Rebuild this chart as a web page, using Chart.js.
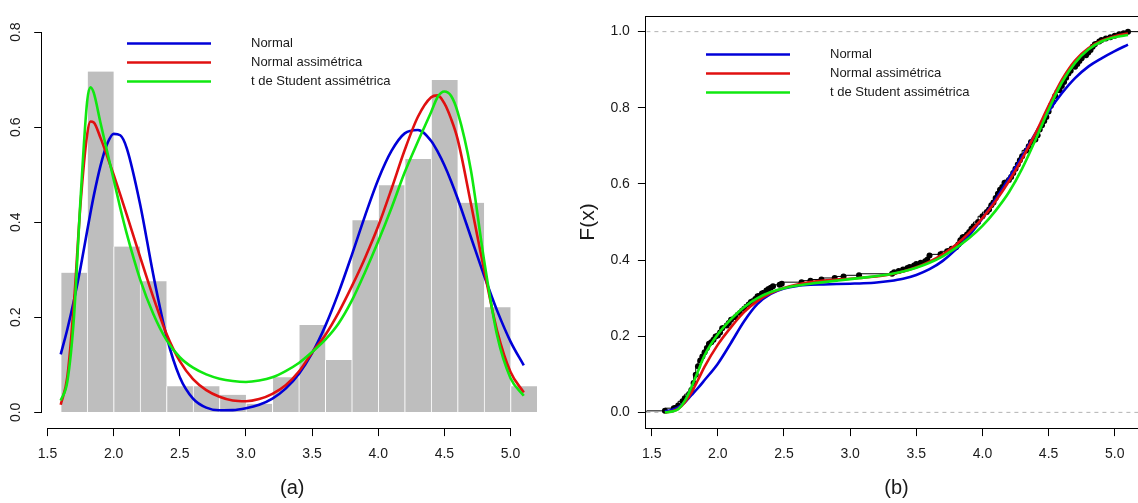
<!DOCTYPE html>
<html lang="pt">
<head>
<meta charset="utf-8">
<title>Erupções: densidades e distribuições ajustadas</title>
<script src="https://cdn.jsdelivr.net/npm/chart.js@4.4.1/dist/chart.umd.min.js"></script>
<style>
  html, body { margin: 0; padding: 0; background: #fff; overflow: hidden; }
  body { width: 1138px; height: 503px; position: relative; }
  canvas { position: absolute; top: 0; }
  #histo { left: 0; }
  #acum { left: 580px; }
</style>
</head>
<body>
<canvas id="histo" width="580" height="503"></canvas>
<canvas id="acum" width="600" height="503"></canvas>
<script>
// ---- dados ----
const nomesModelos = ["Normal", "Normal assimétrica", "t de Student assimétrica"];

// histograma (densidade por classe)
const binEdges = [1.6,1.8,2.0,2.2,2.4,2.6,2.8,3.0,3.2,3.4,3.6,3.8,4.0,4.2,4.4,4.6,4.8,5.0,5.2];
const binDensity = [0.294,0.717,0.349,0.276,0.055,0.055,0.037,0.018,0.074,
                    0.184,0.110,0.404,0.478,0.533,0.699,0.441,0.221,0.055];

// densidades ajustadas
const densX = [1.6,1.65,1.7,1.75,1.8,1.825,1.85,1.9,1.95,2.0,2.05,2.1,
               2.2,2.3,2.4,2.5,2.6,2.7,2.8,2.9,3.0,3.1,3.2,3.3,3.4,3.5,3.6,3.7,3.8,3.9,
               4.0,4.1,4.2,4.3,4.4,4.45,4.5,4.55,4.6,4.7,4.8,4.9,5.0,5.1];
const densNormal = [0.122,0.175,0.236,0.305,0.382,0.420,0.456,0.518,0.564,0.586,0.583,0.555,
                    0.438,0.289,0.160,0.074,0.029,0.010,0.0045,0.0048,0.0087,0.016,0.029,0.050,0.081,0.1245,0.182,0.252,0.331,0.4135,
                    0.490,0.550,0.587,0.594,0.571,0.548,0.520,0.487,0.450,0.369,0.288,0.213,0.149,0.099];
const densSN = [0.016,0.075,0.230,0.440,0.585,0.612,0.610,0.578,0.540,0.500,0.458,0.415,
                0.327,0.242,0.165,0.108,0.070,0.047,0.033,0.025,0.0235,0.028,0.039,0.057,0.086,0.126,0.163,0.210,0.265,0.325,
                0.392,0.470,0.552,0.622,0.663,0.667,0.650,0.618,0.575,0.440,0.300,0.170,0.085,0.042];
const densST = [0.025,0.065,0.200,0.450,0.655,0.684,0.672,0.610,0.550,0.490,0.430,0.375,
                0.280,0.207,0.152,0.116,0.094,0.080,0.071,0.066,0.064,0.067,0.074,0.087,0.104,0.127,0.153,0.187,0.235,0.295,
                0.360,0.430,0.505,0.570,0.632,0.664,0.675,0.666,0.632,0.510,0.320,0.160,0.072,0.035];

// distribuições acumuladas ajustadas
const cdfX = [1.6,1.65,1.7,1.75,1.8,1.85,1.9,2.0,2.1,2.2,2.3,2.4,2.5,2.6,2.7,2.8,2.9,3.0,
              3.1,3.2,3.3,3.4,3.5,3.6,3.7,3.8,3.9,4.0,4.1,4.2,4.3,4.4,4.5,4.6,4.7,4.8,4.9,5.0,5.1];
const cdfNormal = [0.002,0.006,0.013,0.026,0.045,0.064,0.085,0.128,0.183,0.240,0.285,0.311,0.325,0.332,0.335,0.336,0.337,0.338,
                   0.339,0.341,0.345,0.351,0.361,0.376,0.398,0.428,0.465,0.510,0.560,0.615,0.672,0.733,0.790,0.838,0.878,0.908,0.930,0.949,0.966];
const cdfSN = [0.000,0.002,0.009,0.026,0.052,0.085,0.120,0.178,0.224,0.264,0.293,0.313,0.327,0.336,0.342,0.346,0.349,0.351,
               0.354,0.357,0.362,0.370,0.381,0.396,0.415,0.440,0.472,0.510,0.555,0.607,0.666,0.732,0.805,0.873,0.924,0.956,0.976,0.988,0.995];
const cdfST = [0.000,0.002,0.008,0.030,0.066,0.108,0.150,0.205,0.245,0.277,0.300,0.316,0.326,0.333,0.338,0.342,0.346,0.350,
               0.354,0.358,0.363,0.370,0.380,0.393,0.410,0.432,0.458,0.490,0.530,0.578,0.640,0.715,0.795,0.866,0.918,0.953,0.974,0.985,0.991];

// distribuição empírica
const ecdfX = [1.600,1.667,1.700,1.733,1.750,1.783,1.800,1.817,1.833,1.850,
               1.867,1.883,1.900,1.917,1.933,1.950,1.967,1.983,2.000,2.017,
               2.033,2.067,2.083,2.100,2.133,2.167,2.200,2.233,2.250,2.283,
               2.300,2.333,2.367,2.383,2.400,2.417,2.467,2.483,2.633,2.700,
               2.783,2.883,2.950,3.067,3.317,3.333,3.367,3.400,3.433,3.450,
               3.483,3.500,3.533,3.567,3.583,3.600,3.683,3.733,3.767,3.800,
               3.817,3.833,3.850,3.883,3.900,3.917,3.933,3.967,4.000,4.033,
               4.050,4.067,4.083,4.100,4.117,4.133,4.150,4.167,4.200,4.217,
               4.233,4.250,4.267,4.283,4.300,4.333,4.350,4.367,4.400,4.417,
               4.433,4.450,4.467,4.483,4.500,4.517,4.533,4.550,4.583,4.600,
               4.617,4.633,4.650,4.667,4.700,4.717,4.733,4.750,4.783,4.800,
               4.817,4.833,4.850,4.883,4.900,4.933,4.967,5.000,5.033,5.067,
               5.100];
const ecdfF = [0.004,0.011,0.018,0.029,0.037,0.048,0.059,0.077,0.099,0.121,
               0.136,0.147,0.158,0.169,0.180,0.184,0.191,0.199,0.202,0.210,
               0.221,0.228,0.235,0.243,0.250,0.261,0.272,0.283,0.290,0.298,
               0.305,0.312,0.320,0.324,0.327,0.331,0.335,0.338,0.342,0.346,
               0.349,0.353,0.357,0.360,0.364,0.368,0.371,0.375,0.379,0.382,
               0.386,0.390,0.393,0.397,0.401,0.412,0.415,0.423,0.430,0.434,
               0.441,0.452,0.460,0.467,0.474,0.482,0.489,0.500,0.515,0.526,
               0.533,0.544,0.551,0.563,0.574,0.585,0.592,0.603,0.610,0.618,
               0.629,0.640,0.651,0.662,0.673,0.688,0.699,0.710,0.717,0.728,
               0.743,0.754,0.765,0.776,0.790,0.805,0.816,0.831,0.846,0.857,
               0.868,0.879,0.890,0.897,0.908,0.915,0.923,0.930,0.938,0.945,
               0.952,0.960,0.967,0.974,0.978,0.982,0.985,0.989,0.993,0.996,
               1.000];

const xRange = [1.46, 5.24];
const xTicks = [1.5, 2.0, 2.5, 3.0, 3.5, 4.0, 4.5, 5.0];
const yTicksDens = [0, 0.2, 0.4, 0.6, 0.8];
const yTicksCdf = [0, 0.2, 0.4, 0.6, 0.8, 1.0];

// ---- estilo ----
const FONTE = '"Liberation Sans", Arial, sans-serif';
const COR_TEXTO = "#1a1a1a";
const cores = ["#0000d8", "#e01010", "#10e810"];

const pares = (xs, ys) => xs.map((x, i) => ({ x, y: ys[i] }));

function curva(label, xs, ys, i) {
  return {
    type: "line", label, data: pares(xs, ys),
    borderColor: cores[i], borderWidth: 2.6, pointRadius: 0,
    cubicInterpolationMode: "monotone", order: 3 - i
  };
}

// legenda no estilo do R: traço comprido + texto afastado
const legendaR = {
  id: "legendaR",
  afterDraw(chart, args, opts) {
    const { ctx } = chart;
    const sets = chart.data.datasets.filter(d => nomesModelos.includes(d.label));
    ctx.save();
    ctx.font = "13px " + FONTE;
    ctx.textBaseline = "middle";
    ctx.textAlign = "left";
    sets.forEach((d, i) => {
      const y = opts.y + i * opts.gap;
      ctx.strokeStyle = d.borderColor;
      ctx.lineWidth = 2.6;
      ctx.beginPath();
      ctx.moveTo(opts.x0, y);
      ctx.lineTo(opts.x1, y);
      ctx.stroke();
      ctx.fillStyle = COR_TEXTO;
      ctx.fillText(d.label, opts.xText, y);
    });
    ctx.restore();
  }
};

// eixos soltos (só entre o primeiro e o último tick)
const eixosSoltos = {
  id: "eixosSoltos",
  afterDraw(chart) {
    const { ctx, chartArea, scales: { x, y } } = chart;
    ctx.save();
    ctx.strokeStyle = "#000";
    ctx.lineWidth = 1;
    ctx.beginPath();
    const yb = Math.round(chartArea.bottom) + 0.5;
    ctx.moveTo(x.getPixelForValue(xTicks[0]), yb);
    ctx.lineTo(x.getPixelForValue(xTicks[xTicks.length - 1]), yb);
    const xl = Math.round(chartArea.left) - 0.5;
    ctx.moveTo(xl, y.getPixelForValue(yTicksDens[0]));
    ctx.lineTo(xl, y.getPixelForValue(yTicksDens[yTicksDens.length - 1]));
    ctx.stroke();
    ctx.restore();
  }
};

// moldura em volta da área do gráfico
const moldura = {
  id: "moldura",
  afterDraw(chart) {
    const { ctx, chartArea: a } = chart;
    ctx.save();
    ctx.strokeStyle = "#000";
    ctx.lineWidth = 1;
    ctx.strokeRect(Math.round(a.left) - 0.5, Math.round(a.top) + 0.5,
                   a.right - a.left + 1, Math.round(a.bottom) - Math.round(a.top));
    ctx.restore();
  }
};

function eixoX(titulo) {
  return {
    type: "linear", min: xRange[0], max: xRange[1], offset: false,
    afterBuildTicks: s => { s.ticks = xTicks.map(v => ({ value: v })); },
    afterFit: s => { s.height = 75.4; },
    ticks: { callback: v => v.toFixed(1), font: { family: FONTE, size: 14 }, color: COR_TEXTO,
             padding: 9.5, maxRotation: 0, autoSkip: false },
    grid: { display: true, drawOnChartArea: false, drawTicks: true, tickLength: 8.5,
            color: "#000", tickColor: "#000", offset: false },
    border: { display: false },
    title: { display: true, text: titulo, color: COR_TEXTO,
             font: { family: FONTE, size: 20 }, padding: { top: 0, bottom: 3 } }
  };
}

Chart.defaults.font.family = FONTE;

// ---- (a) histograma com densidades ----
const barras = binDensity.map((d, i) => ({ x: (binEdges[i] + binEdges[i + 1]) / 2, y: d }));

new Chart(document.getElementById("histo"), {
  type: "bar",
  data: {
    datasets: [
      curva(nomesModelos[0], densX, densNormal, 0),
      curva(nomesModelos[1], densX, densSN, 1),
      curva(nomesModelos[2], densX, densST, 2),
      {
        type: "bar", label: "hist", data: barras,
        backgroundColor: "#bebebe", borderColor: "#ffffff",
        borderWidth: { left: 1, right: 0, top: 0, bottom: 0 },
        barPercentage: 1, categoryPercentage: 1, order: 4
      }
    ]
  },
  options: {
    responsive: false, animation: false, devicePixelRatio: 1,
    layout: { padding: { left: 0, top: 7.4, right: 37.7, bottom: 0 } },
    plugins: {
      legend: { display: false }, tooltip: { enabled: false },
      legendaR: { x0: 127, x1: 211, xText: 251, y: 43.5, gap: 19 }
    },
    scales: {
      x: eixoX("(a)"),
      y: {
        min: -0.032, max: 0.832,
        afterBuildTicks: s => { s.ticks = yTicksDens.map(v => ({ value: v })); },
        afterFit: s => { s.width = 42.2; },
        ticks: { callback: v => v.toFixed(1), font: { family: FONTE, size: 14 }, color: COR_TEXTO,
                 minRotation: 90, maxRotation: 90, crossAlign: "center", padding: 8.5, autoSkip: false },
        grid: { display: true, drawOnChartArea: false, drawTicks: true, tickLength: 8,
                color: "#000", tickColor: "#000" },
        border: { display: false }
      }
    }
  },
  plugins: [eixosSoltos, legendaR]
});

// ---- (b) distribuição acumulada ----
new Chart(document.getElementById("acum"), {
  type: "line",
  data: {
    datasets: [
      curva(nomesModelos[0], cdfX, cdfNormal, 0),
      curva(nomesModelos[1], cdfX, cdfSN, 1),
      curva(nomesModelos[2], cdfX, cdfST, 2),
      {
        label: "ecdf pontos", data: pares(ecdfX, ecdfF), showLine: false,
        pointRadius: 3, pointBackgroundColor: "#000", pointBorderWidth: 0, order: 5
      },
      {
        label: "ecdf degraus",
        data: [{ x: xRange[0], y: 0 }, ...pares(ecdfX, ecdfF), { x: xRange[1], y: 1 }],
        stepped: "after", borderColor: "#000", borderWidth: 1, pointRadius: 0, order: 6
      },
      {
        label: "ref0", data: [{ x: xRange[0], y: 0 }, { x: xRange[1], y: 0 }],
        borderColor: "#b3b3b3", borderDash: [4, 4], borderWidth: 1, pointRadius: 0, order: 9
      },
      {
        label: "ref1", data: [{ x: xRange[0], y: 1 }, { x: xRange[1], y: 1 }],
        borderColor: "#b3b3b3", borderDash: [4, 4], borderWidth: 1, pointRadius: 0, order: 9
      }
    ]
  },
  options: {
    responsive: false, animation: false, devicePixelRatio: 1,
    layout: { padding: { left: 0, top: 7.4, right: 33.5, bottom: 0 } },
    plugins: {
      legend: { display: false }, tooltip: { enabled: false },
      legendaR: { x0: 126, x1: 210, xText: 250, y: 54.5, gap: 19 }
    },
    scales: {
      x: eixoX("(b)"),
      y: {
        min: -0.04, max: 1.04,
        afterBuildTicks: s => { s.ticks = yTicksCdf.map(v => ({ value: v })); },
        afterFit: s => { s.width = 66.4; },
        ticks: { callback: v => v.toFixed(1), font: { family: FONTE, size: 14 }, color: COR_TEXTO,
                 padding: 8, autoSkip: false },
        grid: { display: true, drawOnChartArea: false, drawTicks: true, tickLength: 8.5,
                color: "#000", tickColor: "#000" },
        border: { display: false },
        title: { display: true, text: "F(x)", color: COR_TEXTO,
                 font: { family: FONTE, size: 21, lineHeight: 1.2 }, padding: { top: -4.6, bottom: 0 } }
      }
    }
  },
  plugins: [moldura, legendaR]
});
</script>
</body>
</html>
